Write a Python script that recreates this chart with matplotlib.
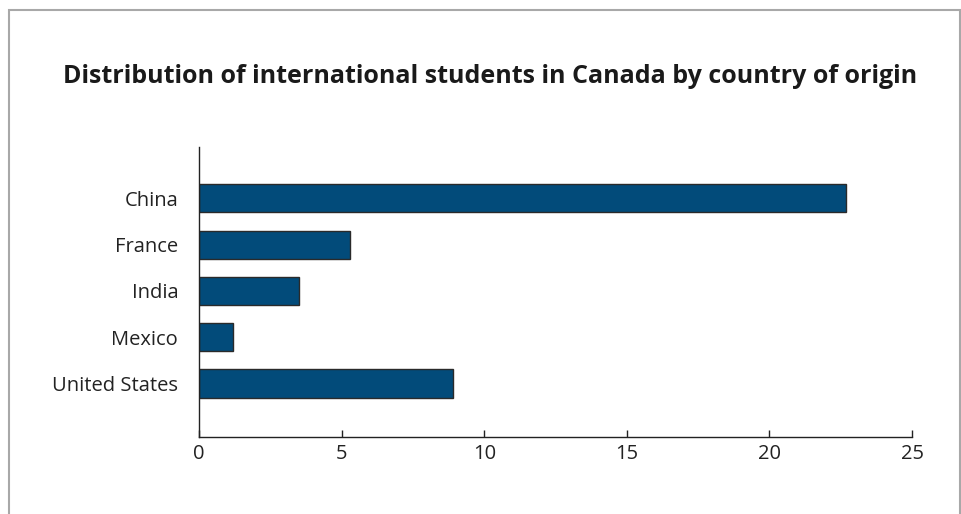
import matplotlib.pyplot as plt
from matplotlib.patches import Rectangle

plt.rcParams['font.family'] = ['Open Sans', 'DejaVu Sans']

# donnees
pays = ["China", "France", "India", "Mexico", "United States"]
valeurs = [22.7, 5.3, 3.5, 1.2, 8.9]
ticks_x = [0, 5, 10, 15, 20, 25]

fig = plt.figure(figsize=(9.62, 5.14), dpi=100)
ax = fig.add_axes([0.2069, 0.1504, 0.7412, 0.5636])

pos = list(range(len(pays)))[::-1]
ax.barh(pos, valeurs, height=0.61, color='#024b7a', edgecolor='#2a2a2a', linewidth=1)

ax.set_xlim(0, 25)
ax.set_ylim(-1.15, 5.11)
ax.set_xticks(ticks_x)
ax.set_yticks(pos)
ax.set_yticklabels(pays)

for s in ['top', 'right']:
    ax.spines[s].set_visible(False)
for s in ['left', 'bottom']:
    ax.spines[s].set_color('#222222')
    ax.spines[s].set_linewidth(1)

ax.tick_params(axis='x', direction='in', length=5, width=1, color='#222222',
               labelsize=14.5, labelcolor='#222222', pad=5)
ax.tick_params(axis='y', length=0, labelsize=14.5, labelcolor='#222222', pad=15)

fig.text(0.509, 0.852, "Distribution of international students in Canada by country of origin",
         ha='center', va='center', fontsize=18, fontweight='bold', color='#1a1a1a')

# cadre gris autour de la figure
fig.patches.append(Rectangle((9 / 962, -0.05), 951 / 962, 1 - 10 / 514 + 0.05,
                             transform=fig.transFigure, fill=False,
                             edgecolor='#a8a8a8', linewidth=1.5))

fig.savefig("out.png", dpi=100)
